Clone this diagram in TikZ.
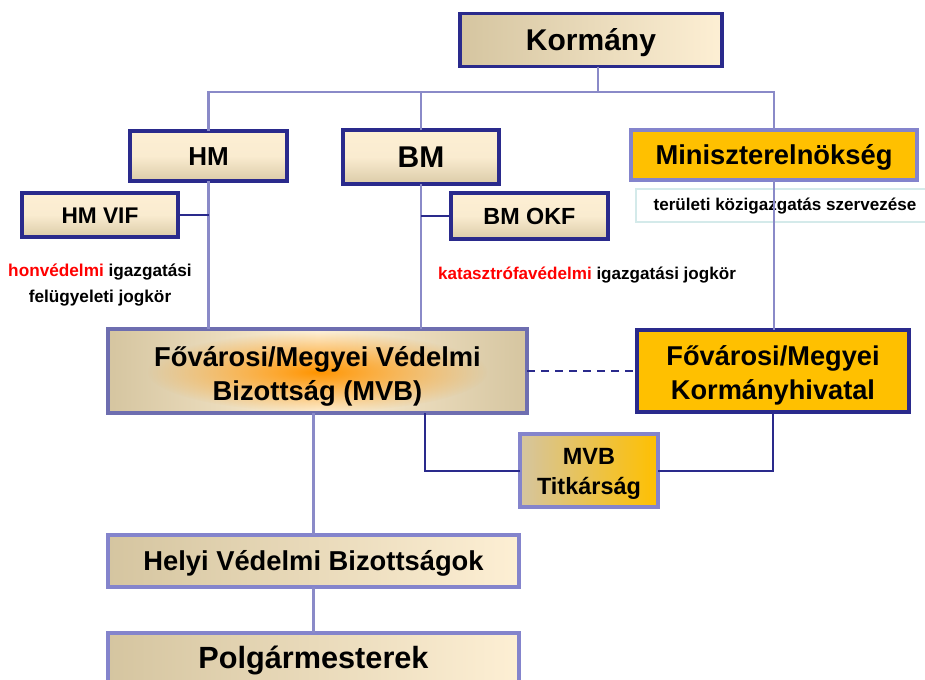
\documentclass[tikz,border=0pt]{standalone}
\usepackage{fontspec}
\setmainfont{Liberation Sans}
\usetikzlibrary{fadings}
\definecolor{navy}{HTML}{2A2A8C}
\definecolor{lav}{HTML}{8A8AC8}
\definecolor{lavb}{HTML}{8484CC}
\definecolor{mvbb}{HTML}{6E6EB0}
\definecolor{gold}{HTML}{FFC000}
\definecolor{tanc}{HTML}{D5C5A0}
\definecolor{creamc}{HTML}{FDEFD4}
\definecolor{glowc}{HTML}{FF9400}
\definecolor{cyanb}{HTML}{D4EAEA}
\definecolor{redt}{HTML}{FF0000}
\tikzfading[name=glowfade, inner color=transparent!0, outer color=transparent!100]
\begin{document}
\begin{tikzpicture}[x=0.75pt,y=-0.75pt,
  box/.style={rectangle, inner sep=0pt, outer sep=0pt, align=center, line width=2.4pt, text depth=0pt},
  vgrad/.style={top color=creamc, bottom color=tanc!85!creamc, middle color=creamc!92!tanc},
  hgrad/.style={left color=tanc, right color=creamc},
  tline/.style={draw=lav, line width=2.2pt},
  nline/.style={draw=navy, line width=1.5pt},
  lbl/.style={inner sep=0pt, outer sep=0pt, align=center}]
\path[use as bounding box, clip] (0,0) rectangle (925,679);
\fill[white] (0,0) rectangle (925,679);

% top
\node[box, draw=navy, hgrad, minimum width=196.5pt, minimum height=39.75pt, text height=16.1pt,
  font={\bfseries\fontsize{22.5}{27}\selectfont}] (korm) at (591,40) {Kormány};

\node[box, draw=navy, vgrad, minimum width=117.75pt, minimum height=37.5pt, text height=14pt,
  font={\bfseries\fontsize{19.5}{23}\selectfont}] (hm) at (208.5,156) {HM};
\node[box, draw=navy, vgrad, minimum width=117pt, minimum height=40.5pt, text height=16.1pt,
  font={\bfseries\fontsize{22.5}{27}\selectfont}] (bm) at (421,157) {BM};
\node[box, draw=lavb, fill=gold, minimum width=214.5pt, minimum height=37.5pt, text height=14.7pt,
  font={\bfseries\fontsize{20.5}{25}\selectfont}] (mini) at (774,155) {Miniszterelnökség};

\node[box, draw=navy, vgrad, minimum width=117pt, minimum height=33pt, text height=12.2pt,
  font={\bfseries\fontsize{17}{20}\selectfont}] (hmvif) at (100,215) {HM VIF};
\node[box, draw=navy, vgrad, minimum width=117.75pt, minimum height=34.5pt, text height=12.5pt,
  font={\bfseries\fontsize{17.5}{21}\selectfont}] (bmokf) at (529.5,216) {BM OKF};

% teruleti box
\draw[cyanb, line width=1pt] (945,189) -- (636,189) -- (636,222) -- (945,222);
\node[lbl, font={\bfseries\fontsize{12.8}{15}\selectfont}] (ter) at (785,206) {területi közigazgatás szervezése};

\node[lbl, font={\bfseries\fontsize{12.9}{19.5}\selectfont}] (honv) at (100,285)
  {\textcolor{redt}{honvédelmi} igazgatási\\felügyeleti jogkör};
\node[lbl, font={\bfseries\fontsize{12.8}{15}\selectfont}] (kat) at (587,275)
  {\textcolor{redt}{katasztrófavédelmi} igazgatási jogkör};

% MVB background with glow
\shade[left color=tanc, right color=tanc, middle color=creamc] (108,329) rectangle (527,413);
\fill[glowc, path fading=glowfade] (317.5,372) ellipse (170 and 40);
\node[box, draw=mvbb, line width=3pt, minimum width=314.25pt, minimum height=63pt] (mvb) at (317.5,371) {};
\node[lbl, font={\bfseries\fontsize{20.5}{25.5}\selectfont}] (mvbt) at (317.5,376)
  {Fővárosi/Megyei Védelmi\\Bizottság (MVB)};

\node[box, draw=navy, line width=2.8pt, fill=gold, minimum width=204pt, minimum height=61.5pt] (kh) at (773,371) {};
\node[lbl, font={\bfseries\fontsize{20.4}{25.5}\selectfont}] (kht) at (773,375)
  {Fővárosi/Megyei\\Kormányhivatal};

\node[box, draw=lavb, left color=tanc, middle color=creamc, right color=gold,
  minimum width=103.5pt, minimum height=54.75pt] (tit) at (589,470.5) {};
\node[lbl, font={\bfseries\fontsize{17.6}{22.5}\selectfont}] (titt) at (589,474) {MVB\\Titkárság};

\node[box, draw=lavb, hgrad, minimum width=308.25pt, minimum height=39pt, text height=14.7pt,
  font={\bfseries\fontsize{20.5}{25}\selectfont}] (helyi) at (313.5,561) {Helyi Védelmi Bizottságok};

\node[box, draw=lavb, hgrad, minimum width=308.25pt, minimum height=45pt] (polg) at (313.5,663) {};
\node[lbl, text height=16.5pt, text depth=0pt, font={\bfseries\fontsize{23}{28}\selectfont}] (polgt) at (313.5,657) {Polgármesterek};

% connectors
\coordinate (bus) at (598,92);
\coordinate (mvbr) at (425,413);
\draw[tline] (korm.south -| bus) -- (bus);
\draw[tline] (hm.north) -- (hm.north |- bus) -- (mini.north |- bus) -- (mini.north);
\draw[tline] (bm.north) -- (bm.north |- bus);
\draw[tline] (hm.south) -- (hm.south |- mvb.north);
\draw[tline] (bm.south) -- (bm.south |- mvb.north);
\draw[tline] (mini.south) -- (mini.south |- kh.north);
\draw[tline] (helyi.north) -- (helyi.north |- mvb.south);
\draw[tline] (helyi.south) -- (polg.north);
\draw[nline] (hmvif.east) -- (hmvif.east -| hm.south);
\draw[nline] (bmokf.west) -- (bmokf.west -| bm.south);
\draw[nline, dash pattern=on 6pt off 4.5pt] (mvb.east) -- (kh.west);
\draw[nline] (tit.west) -| (mvbr);
\draw[nline] (tit.east) -| (kh.south);
\end{tikzpicture}
\end{document}
